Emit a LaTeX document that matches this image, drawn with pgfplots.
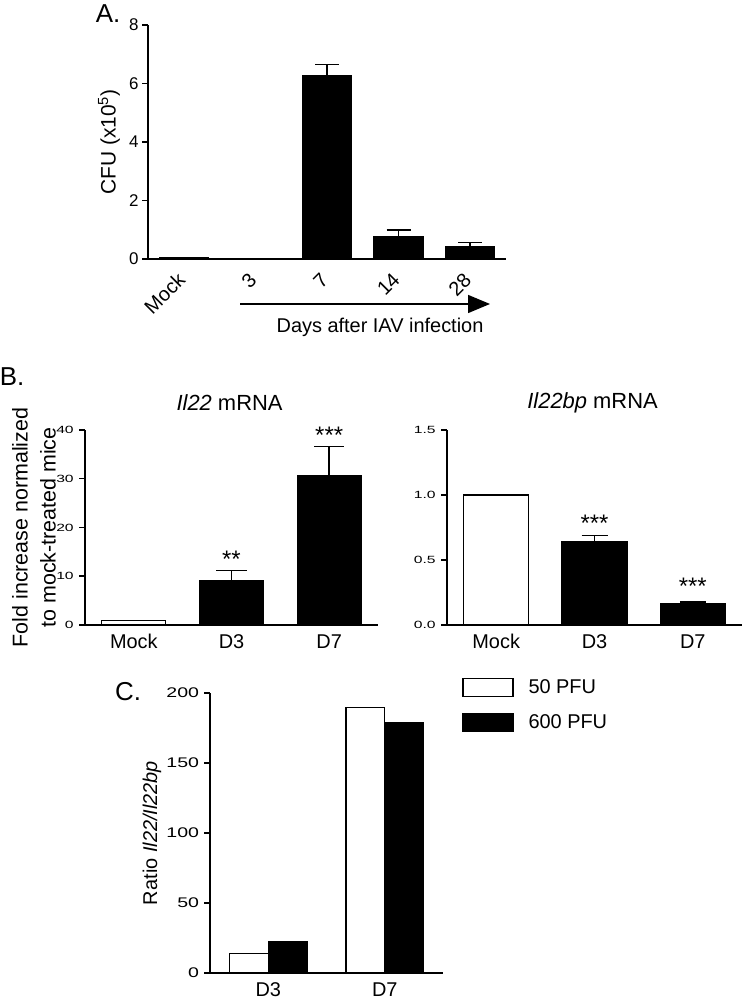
\documentclass[border=0pt]{standalone}
\usepackage{fontspec}
\setmainfont{Liberation Sans}
\usepackage{pgfplots}
\pgfplotsset{compat=1.18}
\usetikzlibrary{arrows.meta}

\newcommand{\fs}[1]{\fontsize{#1}{#1}\selectfont}

\pgfplotsset{prism/.style={
  scale only axis, anchor=south west, clip=false,
  axis x line*=bottom, axis y line*=left,
  ymin=0, enlargelimits=false,
  axis line style={line width=1.5bp},
  tick align=outside, major tick length=6bp,
  ytick style={line width=1.5bp, black},
  xtick style={draw=none},
  /pgf/number format/assume math mode=true,
  every axis plot/.append style={line width=1.2bp, draw=black},
}}
\pgfplotsset{errs/.style={error bars/.cd, y dir=plus, y explicit,
  error bar style={line width=1.5bp, black},
  error mark options={rotate=90, line width=1.5bp, mark size=#1, black}}}

\begin{document}
\begin{tikzpicture}
\path[use as bounding box] (0,0) rectangle (742bp,1003bp);

% ---- A ----
\begin{axis}[prism, at={(148bp,744bp)}, width=358bp, height=234bp,
  xmin=-0.5, xmax=4.5, ymax=8, ytick={0,2,4,6,8},
  xtick={0,1,2,3,4}, xticklabels={Mock,3,7,14,28},
  xticklabel style={rotate=45, anchor=east, font=\fs{20}},
  xticklabel shift=9bp,
  yticklabel style={font=\fs{17}},
  ylabel={CFU (x10\textsuperscript{5})},
  ylabel style={font=\fs{21}, at={(axis description cs:-0.109,0.5)}, anchor=center}]
\addplot[ybar, bar width=49bp, fill=black, errs=12bp]
  table[x=x, y=y, y error=e] {
x y e
0 0.05 0
1 0 0
2 6.26 0.39
3 0.77 0.22
4 0.44 0.12
};
\end{axis}
\draw[line width=1.5bp, -{Triangle[length=22bp,width=18bp]}] (240bp,699bp) -- (490bp,699bp);
\node[font=\fs{20}] at (380bp,676bp) {Days after IAV infection};
\node[font=\fs{26}] at (108bp,989bp) {A.};

% ---- B left ----
\begin{axis}[prism, at={(85bp,378bp)}, width=293bp, height=195bp,
  xmin=-0.5, xmax=2.5, ymax=40, ytick={0,10,...,40},
  xtick={0,1,2}, xticklabels={Mock,D3,D7},
  xticklabel style={font=\fs{20}},
  yticklabel style={font=\fs{10.5}, xscale=1.5},
  ylabel={Fold increase normalized\\to mock-treated mice},
  ylabel style={font=\fontsize{21.5}{28}\selectfont, align=center,
    at={(axis description cs:-0.174,0.5)}, anchor=center}]
\addplot[ybar, bar width=64bp, fill=white] coordinates {(0,1)};
\addplot[ybar, bar width=64bp, fill=black, errs=15bp]
  table[x=x, y=y, y error=e] {
x y e
1 9.07 2.13
2 30.7 5.9
};
\node[anchor=base, font=\fs{22}] at (axis cs:0.98,44.1) {\textit{Il22} mRNA};
\node[anchor=north, inner sep=0pt, font=\fs{24}] at (axis cs:1,15.2) {**};
\node[anchor=north, inner sep=0pt, font=\fs{24}] at (axis cs:2,40.6) {***};
\end{axis}
\node[font=\fs{26}] at (12bp,626bp) {B.};

% ---- B right ----
\begin{axis}[prism, at={(447bp,378bp)}, width=295bp, height=195bp,
  xmin=-0.5, xmax=2.5, ymax=1.5, ytick={0,0.5,1,1.5},
  yticklabel style={font=\fs{10.5}, xscale=1.5,
    /pgf/number format/.cd, fixed, fixed zerofill, precision=1},
  xtick={0,1,2}, xticklabels={Mock,D3,D7},
  xticklabel style={font=\fs{20}}]
\addplot[ybar, bar width=65bp, fill=white] coordinates {(0,1)};
\addplot[ybar, bar width=65bp, fill=black, errs=13bp]
  table[x=x, y=y, y error=e] {
x y e
1 0.64 0.05
2 0.164 0.012
};
\node[anchor=base, font=\fs{22}] at (axis cs:0.98,1.669) {\textit{Il22bp} mRNA};
\node[anchor=north, inner sep=0pt, font=\fs{24}] at (axis cs:1,0.846) {***};
\node[anchor=north, inner sep=0pt, font=\fs{24}] at (axis cs:2,0.364) {***};
\end{axis}

% ---- C ----
\begin{axis}[prism, at={(210bp,30bp)}, width=233bp, height=280bp,
  xmin=-0.5, xmax=1.5, ymax=200, ytick={0,50,...,200},
  xtick={0,1}, xticklabels={D3,D7},
  xticklabel style={font=\fs{20}},
  yticklabel style={font=\fs{14}, xscale=1.4},
  ylabel={Ratio \textit{Il22/Il22bp}},
  ylabel style={font=\fs{20}, at={(axis description cs:-0.249,0.5)}, anchor=center},
  legend image code/.code={\draw[#1, line width=1.2bp] (0bp,-9bp) rectangle (50bp,9bp);},
  legend style={draw=none, fill=none, at={(axis description cs:1.082,1.055)},
    anchor=north west, font=\fs{20}, row sep=16bp, inner sep=0pt,
    nodes={inner sep=1bp}, /tikz/every odd column/.append style={column sep=14bp}},
  legend cell align=left]
\addplot[ybar, bar width=38.7bp, bar shift=-19.35bp, fill=white]
  coordinates {(0,14) (1,189.7)};
\addplot[ybar, bar width=38.7bp, bar shift=19.35bp, fill=black]
  coordinates {(0,22.1) (1,179)};
\legend{50 PFU, 600 PFU}
\end{axis}
\node[font=\fs{26}] at (128bp,311bp) {C.};
\end{tikzpicture}
\end{document}
